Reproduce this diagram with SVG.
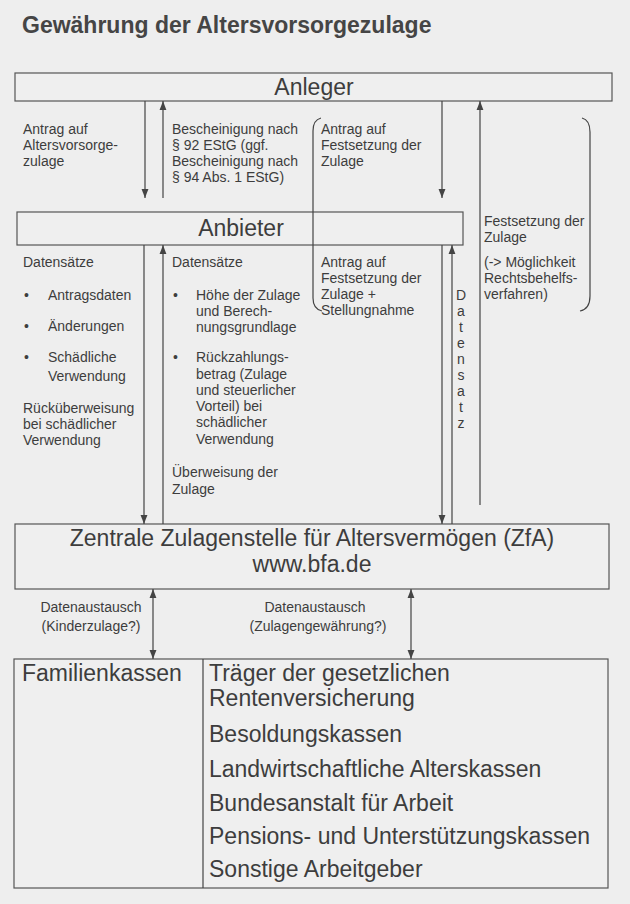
<svg xmlns="http://www.w3.org/2000/svg" width="630" height="904" viewBox="0 0 630 904">
<style>
text{font-family:"Liberation Sans",Arial,sans-serif;fill:#3d3d3d}
.s{font-size:14px}
.m{font-size:14px}
.b{font-size:23px}
.t{font-size:23px;font-weight:bold;fill:#454545}
.box{fill:#efefef;stroke:#555;stroke-width:1.2}
.ln{stroke:#444;stroke-width:1.2;fill:none}
</style>
<defs>
<marker id="ah" viewBox="0 0 10 10" refX="10" refY="5" markerWidth="9" markerHeight="9" markerUnits="userSpaceOnUse" orient="auto-start-reverse"><path d="M0,1.2 L10,5 L0,8.8 z" fill="#444"/></marker>
</defs>
<rect width="630" height="904" fill="#eeeeee"/>
<text class="t" x="22" y="33">Gewährung der Altersvorsorgezulage</text>

<g id="anleger"><rect class="box" x="15" y="73" width="597" height="28"/><text class="b" x="314" y="95" text-anchor="middle">Anleger</text></g>
<g id="anbieter"><rect class="box" x="17" y="212" width="446" height="33"/><text class="b" x="241" y="236" text-anchor="middle">Anbieter</text></g>
<g id="zfa"><rect class="box" x="15" y="524" width="594" height="65"/><text class="b" x="312" y="546" text-anchor="middle">Zentrale Zulagenstelle für Altersvermögen (ZfA)</text><text class="b" x="312" y="572" text-anchor="middle">www.bfa.de</text></g>
<g id="traeger"><rect class="box" x="14" y="659" width="594" height="229"/><line class="ln" x1="203" y1="659" x2="203" y2="888"/>
<text class="b" x="22" y="681">Familienkassen</text>
<text class="b" x="209" y="681">Träger der gesetzlichen</text>
<text class="b" x="209" y="706">Rentenversicherung</text>
<text class="b" x="209" y="742">Besoldungskassen</text>
<text class="b" x="209" y="777">Landwirtschaftliche Alterskassen</text>
<text class="b" x="209" y="811">Bundesanstalt für Arbeit</text>
<text class="b" x="209" y="844">Pensions- und Unterstützungskassen</text>
<text class="b" x="209" y="877">Sonstige Arbeitgeber</text>
</g>

<g id="connectors">
<line class="ln" x1="145" y1="101" x2="145" y2="198" marker-end="url(#ah)"/>
<line class="ln" x1="163" y1="198" x2="163" y2="101" marker-end="url(#ah)"/>
<line class="ln" x1="442" y1="101" x2="442" y2="198" marker-end="url(#ah)"/>
<line class="ln" x1="480" y1="505" x2="480" y2="101" marker-end="url(#ah)"/>
<line class="ln" x1="144" y1="245" x2="144" y2="524" marker-end="url(#ah)"/>
<line class="ln" x1="163" y1="524" x2="163" y2="245" marker-end="url(#ah)"/>
<line class="ln" x1="442" y1="245" x2="442" y2="524" marker-end="url(#ah)"/>
<line class="ln" x1="452" y1="524" x2="452" y2="245" marker-end="url(#ah)"/>
<line class="ln" x1="153" y1="589" x2="153" y2="659" marker-start="url(#ah)" marker-end="url(#ah)"/>
<line class="ln" x1="411" y1="589" x2="411" y2="659" marker-start="url(#ah)" marker-end="url(#ah)"/>
<path class="ln" d="M321,118 Q313,120 313,131 L313,298 Q313,309 322,311"/>
<path class="ln" d="M582,118 Q590,120 590,132 L590,296 Q590,309 580,311"/>
</g>

<g id="labels">
<text class="s" x="23" y="134">Antrag auf</text>
<text class="s" x="23" y="150">Altersvorsorge-</text>
<text class="s" x="23" y="166">zulage</text>
<text class="s" x="172" y="134">Bescheinigung nach</text>
<text class="s" x="172" y="150">§ 92 EStG (ggf.</text>
<text class="s" x="172" y="166">Bescheinigung nach</text>
<text class="s" x="172" y="182">§ 94 Abs. 1 EStG)</text>
<text class="s" x="321" y="134">Antrag auf</text>
<text class="s" x="321" y="150">Festsetzung der</text>
<text class="s" x="321" y="166">Zulage</text>
<text class="s" x="484" y="226">Festsetzung der</text>
<text class="s" x="484" y="242">Zulage</text>
<text class="s" x="484" y="267">(-&gt; Möglichkeit</text>
<text class="s" x="484" y="283">Rechtsbehelfs-</text>
<text class="s" x="484" y="299">verfahren)</text>
<text class="s" x="321" y="267">Antrag auf</text>
<text class="s" x="321" y="283">Festsetzung der</text>
<text class="s" x="321" y="299">Zulage +</text>
<text class="s" x="321" y="315">Stellungnahme</text>

<text class="s" x="23" y="267">Datensätze</text>
<text class="s" x="24" y="300">•</text><text class="s" x="48" y="300">Antragsdaten</text>
<text class="s" x="24" y="331">•</text><text class="s" x="48" y="331">Änderungen</text>
<text class="s" x="24" y="362">•</text><text class="s" x="48" y="362">Schädliche</text>
<text class="s" x="48" y="381">Verwendung</text>
<text class="s" x="23" y="413">Rücküberweisung</text>
<text class="s" x="23" y="429">bei schädlicher</text>
<text class="s" x="23" y="445">Verwendung</text>

<text class="s" x="172" y="267">Datensätze</text>
<text class="s" x="173" y="300">•</text><text class="s" x="196" y="300">Höhe der Zulage</text>
<text class="s" x="196" y="316">und Berech-</text>
<text class="s" x="196" y="332">nungsgrundlage</text>
<text class="s" x="173" y="362">•</text><text class="s" x="196" y="362">Rückzahlungs-</text>
<text class="s" x="196" y="379">betrag (Zulage</text>
<text class="s" x="196" y="395">und steuerlicher</text>
<text class="s" x="196" y="411">Vorteil) bei</text>
<text class="s" x="196" y="427">schädlicher</text>
<text class="s" x="196" y="444">Verwendung</text>
<text class="s" x="172" y="477">Überweisung der</text>
<text class="s" x="172" y="494">Zulage</text>

<text class="s" x="461" y="300" text-anchor="middle">D</text>
<text class="s" x="461" y="316" text-anchor="middle">a</text>
<text class="s" x="461" y="332" text-anchor="middle">t</text>
<text class="s" x="461" y="348" text-anchor="middle">e</text>
<text class="s" x="461" y="364" text-anchor="middle">n</text>
<text class="s" x="461" y="380" text-anchor="middle">s</text>
<text class="s" x="461" y="396" text-anchor="middle">a</text>
<text class="s" x="461" y="412" text-anchor="middle">t</text>
<text class="s" x="461" y="428" text-anchor="middle">z</text>

<text class="m" x="91" y="612" text-anchor="middle">Datenaustausch</text>
<text class="m" x="91" y="631" text-anchor="middle">(Kinderzulage?)</text>
<text class="m" x="315" y="612" text-anchor="middle">Datenaustausch</text>
<text class="m" x="318" y="631" text-anchor="middle">(Zulagengewährung?)</text>
</g>
</svg>
